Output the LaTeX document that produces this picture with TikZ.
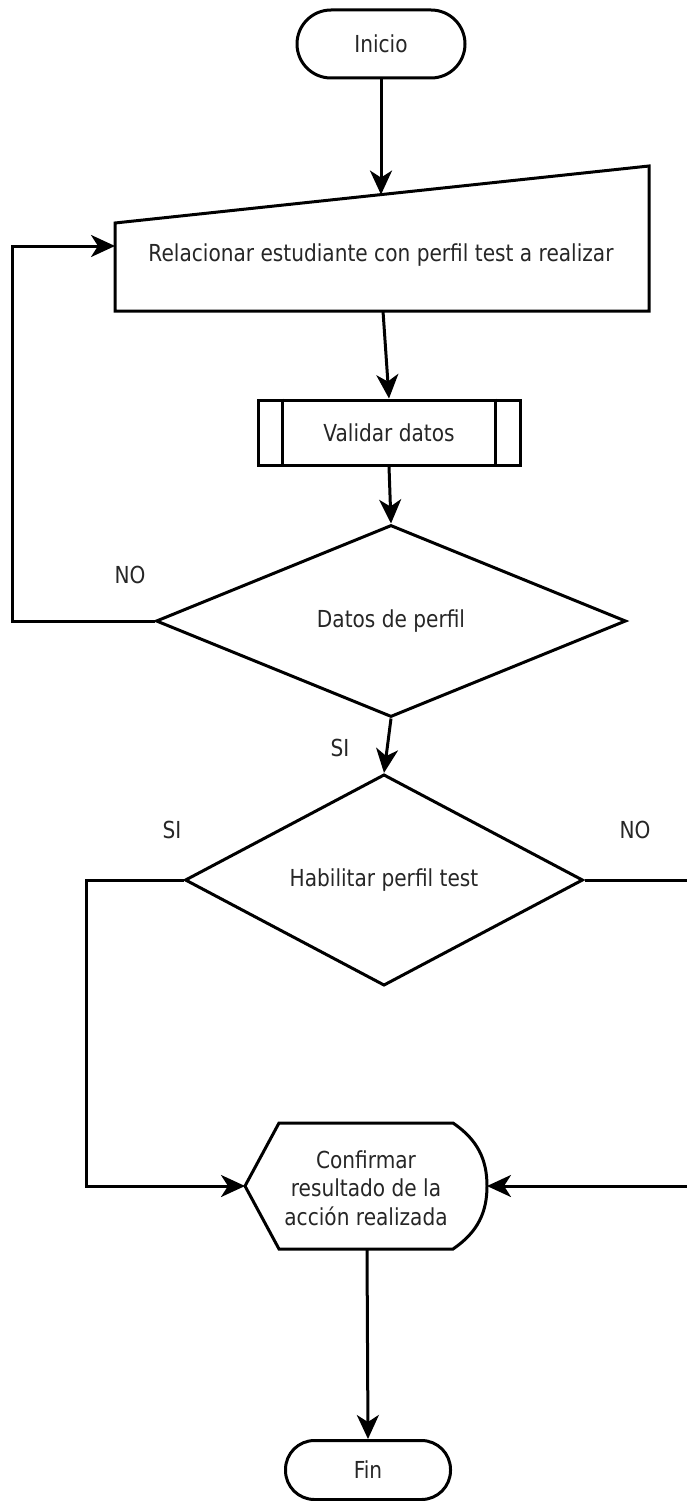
\documentclass[tikz,border=0pt]{standalone}
\usepackage{fontspec}
\setmainfont{DejaVu Sans}[FakeStretch=0.86]
\usetikzlibrary{arrows.meta,shapes.geometric}
\begin{document}
\begin{tikzpicture}[x=1pt,y=-1pt,
  every node/.style={font=\fontsize{23.4}{28.5}\selectfont, text=black!85},
  shapeline/.style={draw=black, line width=3pt},
  terminal/.style={shapeline, rectangle, rounded corners=30pt, inner sep=0pt},
  procbox/.style={shapeline, rectangle, inner sep=0pt, minimum width=262pt, minimum height=65pt},
  decision/.style={shapeline, diamond, inner sep=0pt},
  conn/.style={draw=black, line width=3pt, -{Stealth[length=24pt,width=22pt,inset=7pt]}},
  plainline/.style={draw=black, line width=3pt},
  lbl/.style={inner sep=0pt}
]
\useasboundingbox (0,0) rectangle (686,1501);

% Start
\node[terminal, minimum width=168pt, minimum height=68pt, rounded corners=34pt] (ini) at (381,44) {Inicio};

% Manual input
\coordinate (mTL) at (115,223);
\coordinate (mTR) at (649,166);
\coordinate (mBR) at (649,311);
\coordinate (mBL) at (115,311);
\draw[shapeline, line join=miter] (mTL) -- (mTR) -- (mBR) -- (mBL) -- cycle;
\node[lbl] (rel) at (381,255) {Relacionar estudiante con perfil test a realizar};
\coordinate (relTop) at (381,194.6);
\coordinate (relBot) at (383,311);
\coordinate (relL) at (115,246);

% Predefined process
\node[procbox] (val) at (389,432.5) {Validar datos};
\draw[plainline] ([xshift=26pt]val.north west) -- ([xshift=26pt]val.south west);
\draw[plainline] ([xshift=-26pt]val.north east) -- ([xshift=-26pt]val.south east);

% Decisions
\node[decision, minimum width=470pt, minimum height=192pt] (d1) at (391,621) {Datos de perfil};
\node[decision, minimum width=398pt, minimum height=196pt] (d2) at (384,880) {Habilitar perfil test};

% Display
\coordinate (dispL) at (245,1186);
\coordinate (dispR) at (487,1186);
\coordinate (dispB) at (367,1249);
\draw[shapeline, line join=miter] (dispL) -- (279,1123) -- (453,1123)
  .. controls (478,1140) and (487,1160) .. (dispR)
  .. controls (487,1212) and (478,1232) .. (453,1249) -- (279,1249) -- cycle;
\node[lbl, align=center] (conf) at (366,1188) {Confirmar\\resultado de la\\acción realizada};

% End
\node[terminal, minimum width=165pt, minimum height=59pt, rounded corners=29pt] (fin) at (368,1470) {Fin};

% Connectors
\draw[conn] (ini.south) -- (relTop);
\draw[conn] (relBot) -- (val.north);
\draw[conn] (val.south) -- (d1.north);
\draw[conn] (d1.west) -- ++(-142,0) |- (relL);
\draw[conn] (d1.south) -- (d2.north);
\draw[conn] (d2.west) -- ++(-97,0) |- (dispL);
\draw[conn] (d2.east) -- ++(106,0) |- (dispR);
\draw[conn] (dispB) -- (fin.north);

% Labels
\node[lbl] (no1) at (130,575) {NO};
\node[lbl] (si1) at (340,748) {SI};
\node[lbl] (si2) at (172,830) {SI};
\node[lbl] (no2) at (635,830) {NO};
\end{tikzpicture}
\end{document}
